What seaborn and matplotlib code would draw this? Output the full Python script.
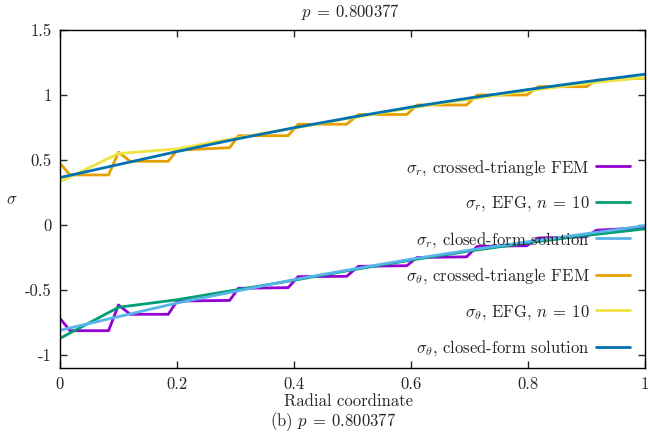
import matplotlib
matplotlib.use("Agg")
from matplotlib import pyplot as plt
import seaborn as sns
import pandas as pd

# crossed-triangle FEM (piecewise per element)
x_fem = [0, 0.017, 0.083, 0.1, 0.12, 0.185, 0.2, 0.29, 0.305, 0.39, 0.407, 0.49, 0.51,
         0.593, 0.61, 0.695, 0.713, 0.798, 0.817, 0.9, 0.917, 1.0]
sigr_fem = [-0.718, -0.813, -0.813, -0.615, -0.687, -0.687, -0.585, -0.58, -0.487, -0.482,
            -0.397, -0.395, -0.318, -0.313, -0.25, -0.245, -0.165, -0.159, -0.1, -0.09,
            -0.04, -0.02]
sigt_fem = [0.475, 0.385, 0.385, 0.56, 0.49, 0.49, 0.575, 0.595, 0.687, 0.687, 0.775,
            0.775, 0.85, 0.85, 0.923, 0.923, 1.0, 1.0, 1.064, 1.064, 1.115, 1.13]

# EFG n = 10 and closed-form solution
x_nodes = [0, 0.1, 0.2, 0.3, 0.4, 0.5, 0.6, 0.7, 0.8, 0.9, 1.0]
sigr_efg = [-0.872, -0.633, -0.575, -0.5, -0.425, -0.345, -0.27, -0.2, -0.137, -0.08, -0.03]
sigt_efg = [0.333, 0.55, 0.585, 0.668, 0.745, 0.825, 0.9, 0.968, 1.032, 1.09, 1.135]
sigr_exact = [-0.81, -0.705, -0.6, -0.51, -0.42, -0.34, -0.263, -0.193, -0.128, -0.067, -0.005]
sigt_exact = [0.365, 0.465, 0.565, 0.66, 0.748, 0.83, 0.907, 0.977, 1.042, 1.103, 1.16]

series = [
    (x_fem, sigr_fem, '#9400D3', r'$\sigma_r$, crossed-triangle FEM'),
    (x_nodes, sigr_efg, '#009E73', r'$\sigma_r$, EFG, $n\:=\:10$'),
    (x_nodes, sigr_exact, '#56B4E9', r'$\sigma_r$, closed-form solution'),
    (x_fem, sigt_fem, '#E69F00', r'$\sigma_\theta$, crossed-triangle FEM'),
    (x_nodes, sigt_efg, '#F0E442', r'$\sigma_\theta$, EFG, $n\:=\:10$'),
    (x_nodes, sigt_exact, '#0072B2', r'$\sigma_\theta$, closed-form solution'),
]

sns.set_style("ticks")
plt.rcParams['font.family'] = 'serif'
plt.rcParams['font.serif'] = ['cmr10', 'DejaVu Serif']
plt.rcParams['mathtext.fontset'] = 'cm'
plt.rcParams['axes.unicode_minus'] = False
plt.rcParams['axes.formatter.use_mathtext'] = True
plt.rcParams['font.size'] = 12

fig = plt.figure(figsize=(6.48, 4.40), dpi=100)
ax = fig.add_axes([60/648, 1 - 368/440, 585/648, 338/440])

for xs, ys, col, lab in series:
    df = pd.DataFrame({'r': xs, 's': ys})
    sns.lineplot(data=df, x='r', y='s', ax=ax, color=col, lw=2.0, label=lab,
                 estimator=None, sort=False)

ax.set_xlim(0, 1)
ax.set_ylim(-1.1, 1.5)
ax.set_xticks([0, 0.2, 0.4, 0.6, 0.8, 1])
ax.set_xticklabels(['0', '0.2', '0.4', '0.6', '0.8', '1'])
ax.set_yticks([-1, -0.5, 0, 0.5, 1, 1.5])
ax.set_yticklabels(['-1', '-0.5', '0', '0.5', '1', '1.5'])
ax.tick_params(direction='in', top=True, right=True, length=5, width=1, labelsize=12, pad=6)
for sp in ax.spines.values():
    sp.set_visible(True)
    sp.set_color('black')
    sp.set_linewidth(1.0)

ax.set_xlabel('')
ax.set_ylabel('')
fig.text(349/648, 1 - 401/440, 'Radial coordinate', ha='center', va='center', fontsize=12)
fig.text(12/648, 1 - 200/440, r'$\sigma$', ha='center', va='center', fontsize=12)
fig.text(350/648, 1 - 12/440, r'$p\:=\:0.800377$', ha='center', va='center', fontsize=12)
fig.text(333/648, 1 - 422/440, r'(b) $p\:=\:0.800377$', ha='center', va='center', fontsize=12)

ax.legend(loc='lower right', bbox_to_anchor=(0.985, 0.01), frameon=False,
          markerfirst=False, handlelength=2.0, handletextpad=0.4,
          labelspacing=0.99, borderaxespad=0, fontsize=12)

fig.savefig('out.png', dpi=100)
